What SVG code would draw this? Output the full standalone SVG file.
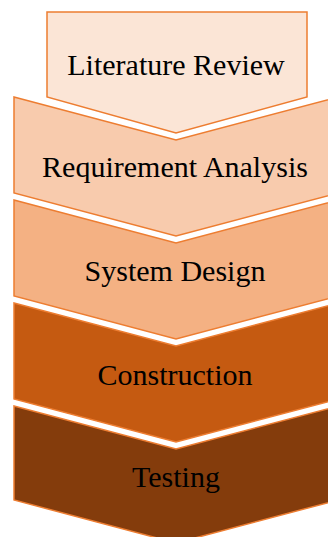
<svg xmlns="http://www.w3.org/2000/svg" width="328" height="537" viewBox="0 0 328 537">
  <style>
    .step { stroke: #ED7D31; stroke-width: 1.5; stroke-linejoin: miter; }
    .label { font-size: 30px; fill: #000; text-anchor: middle; }
  </style>
  <rect width="328" height="537" fill="#ffffff"/>

  <g id="literature-review">
    <polygon class="step" fill="#FBE5D6" points="47,12 307,12 307,97 176,133 47,97"/>
    <text class="label" font-family="Liberation Serif, Times New Roman, serif" x="176" y="75">Literature Review</text>
  </g>

  <g id="requirement-analysis">
    <polygon class="step" fill="#F8CBAD" points="14,97 176,140 338,97 338,193 176,236 14,193"/>
    <text class="label" font-family="Liberation Serif, Times New Roman, serif" x="175" y="177">Requirement Analysis</text>
  </g>

  <g id="system-design">
    <polygon class="step" fill="#F4B183" points="14,200 176,243 338,200 338,296 176,339 14,296"/>
    <text class="label" font-family="Liberation Serif, Times New Roman, serif" x="175" y="281">System Design</text>
  </g>

  <g id="construction">
    <polygon class="step" fill="#C55A11" points="14,303 176,346 338,303 338,399 176,442 14,399"/>
    <text class="label" font-family="Liberation Serif, Times New Roman, serif" x="175" y="385">Construction</text>
  </g>

  <g id="testing">
    <polygon class="step" fill="#843C0C" points="14,406 176,449 338,406 338,500 176,543 14,500"/>
    <text class="label" font-family="Liberation Serif, Times New Roman, serif" x="176" y="487">Testing</text>
  </g>

  <g id="connectors"></g>
</svg>
